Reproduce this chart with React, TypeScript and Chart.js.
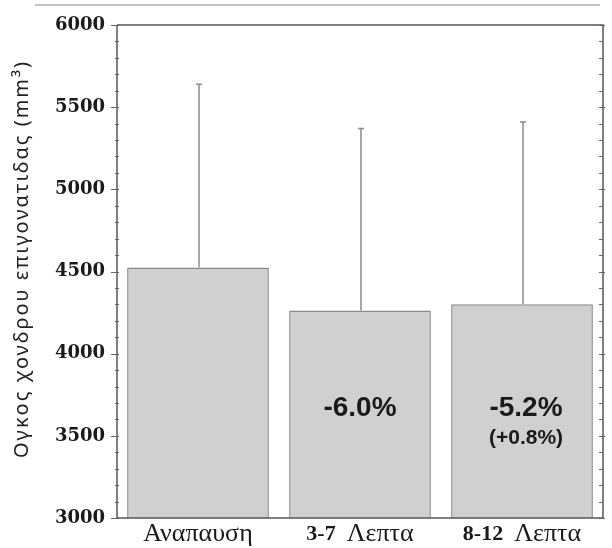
import React, { useEffect, useRef } from "react";
import { Chart, registerables } from "chart.js";
Chart.register(...registerables);

const categories = ["Αναπαυση", "3-7 Λεπτα", "8-12 Λεπτα"];
const labelBoldPart = ["", "3-7", "8-12"];
const labelPlainPart = ["Αναπαυση", "Λεπτα", "Λεπτα"];
const meanVolume = [4525, 4262, 4300];
const errorUpper = [5640, 5370, 5410];
const changeLabels = ["", "-6.0%", "-5.2%"];
const changeSubLabels = ["", "", "(+0.8%)"];
const yMin = 3000;
const yMax = 6000;
const yStep = 500;
const yMinorStep = 100;
const yTitle = "Ογκος χονδρου επιγονατιδας (mm³)";

const decorPlugin = {
  id: "decor",
  beforeDraw(chart: any) {
    const ctx = chart.ctx;
    ctx.save();
    ctx.fillStyle = "#ffffff";
    ctx.fillRect(0, 0, chart.width, chart.height);
    ctx.strokeStyle = "#c4c4c4";
    ctx.lineWidth = 2;
    ctx.beginPath();
    ctx.moveTo(35, 5);
    ctx.lineTo(600, 5);
    ctx.stroke();
    ctx.restore();
  },
  afterDatasetsDraw(chart: any) {
    const ctx = chart.ctx;
    const y = chart.scales.y;
    const x = chart.scales.x;
    const meta = chart.getDatasetMeta(0);
    ctx.save();
    // error bars
    ctx.strokeStyle = "#8c8c8c";
    ctx.lineWidth = 1.5;
    meta.data.forEach((bar: any, i: number) => {
      const top = y.getPixelForValue(errorUpper[i]);
      const base = y.getPixelForValue(meanVolume[i]);
      const cx = bar.x + 1;
      ctx.beginPath();
      ctx.moveTo(cx, base);
      ctx.lineTo(cx, top);
      ctx.moveTo(cx - 3, top);
      ctx.lineTo(cx + 3, top);
      ctx.stroke();
    });
    // annotations
    ctx.fillStyle = "#1a1a1a";
    ctx.textAlign = "center";
    ctx.textBaseline = "middle";
    meta.data.forEach((bar: any, i: number) => {
      if (changeLabels[i]) {
        ctx.font = "bold 28px 'Liberation Sans', Arial, sans-serif";
        ctx.fillText(changeLabels[i], bar.x + (i === 2 ? 4 : 0), y.getPixelForValue(3665));
      }
      if (changeSubLabels[i]) {
        ctx.font = "bold 21px 'Liberation Sans', Arial, sans-serif";
        ctx.fillText(changeSubLabels[i], bar.x + 4, y.getPixelForValue(3485));
      }
    });
    // frame
    const a = chart.chartArea;
    ctx.strokeStyle = "#555555";
    ctx.lineWidth = 1.5;
    ctx.beginPath();
    ctx.moveTo(a.left, a.top);
    ctx.lineTo(a.right, a.top);
    ctx.lineTo(a.right, a.bottom);
    ctx.lineTo(a.left, a.bottom);
    ctx.lineTo(a.left, a.top);
    ctx.stroke();
    // minor/major ticks
    ctx.lineWidth = 1;
    ctx.strokeStyle = "#666666";
    for (let v = yMin; v <= yMax; v += yMinorStep) {
      const py = Math.round(y.getPixelForValue(v)) + 0.5;
      const major = (v - yMin) % yStep === 0;
      ctx.beginPath();
      ctx.moveTo(a.left - (major ? 6 : 2), py);
      ctx.lineTo(a.left + 2, py);
      ctx.moveTo(a.right - 4, py);
      ctx.lineTo(a.right + (major ? 2 : 0), py);
      ctx.stroke();
    }
    // y title
    ctx.save();
    ctx.translate(22, 259);
    ctx.rotate(-Math.PI / 2);
    ctx.textAlign = "center";
    ctx.textBaseline = "middle";
    ctx.fillStyle = "#222222";
    ctx.font = "20px 'Noto Sans', sans-serif";
    try {
      (ctx as any).letterSpacing = "2px";
    } catch (e) {}
    ctx.fillText(yTitle, 0, 0);
    ctx.restore();
    // x labels
    ctx.fillStyle = "#1a1a1a";
    ctx.textBaseline = "middle";
    ctx.textAlign = "left";
    categories.forEach((_c: string, i: number) => {
      const cx = x.getPixelForValue(i);
      const boldFont = "bold 22px 'Liberation Serif', 'Times New Roman', serif";
      const plainFont = "26px 'Liberation Serif', 'Times New Roman', serif";
      ctx.font = boldFont;
      const bw = labelBoldPart[i] ? ctx.measureText(labelBoldPart[i] + "  ").width : 0;
      ctx.font = plainFont;
      const pw = ctx.measureText(labelPlainPart[i]).width;
      let sx = cx - (bw + pw) / 2;
      const ty = 534;
      if (labelBoldPart[i]) {
        ctx.font = boldFont;
        ctx.fillText(labelBoldPart[i], sx, ty);
        sx += bw;
      }
      ctx.font = plainFont;
      ctx.fillText(labelPlainPart[i], sx, ty);
    });
    ctx.restore();
  },
};

export default function App() {
  const ref = useRef<HTMLCanvasElement | null>(null);
  useEffect(() => {
    document.body.style.margin = "0";
    const canvas = ref.current;
    if (!canvas) return;
    const chart = new Chart(canvas, {
      type: "bar",
      data: {
        labels: categories,
        datasets: [
          {
            data: meanVolume,
            backgroundColor: "#d0d0d0",
            borderColor: "#8a8a8a",
            borderWidth: 1.5,
            barPercentage: 0.875,
            categoryPercentage: 1,
          },
        ],
      },
      options: {
        animation: false,
        responsive: false,
        maintainAspectRatio: false,
        devicePixelRatio: 1,
        layout: { padding: { left: 0, right: 9, top: 25, bottom: 0 } },
        plugins: { legend: { display: false }, tooltip: { enabled: false } },
        scales: {
          x: {
            type: "category",
            offset: true,
            grid: { display: false },
            border: { display: false },
            ticks: { display: false },
            afterFit: (s: any) => {
              s.height = 30;
            },
          },
          y: {
            min: yMin,
            max: yMax,
            ticks: {
              stepSize: yStep,
              color: "#1a1a1a",
              padding: 4,
              font: { family: "'DejaVu Serif', serif", weight: "bold", size: 18 },
              callback: (v: any) => String(v),
            },
            grid: { display: false },
            border: { display: false },
            title: { display: false },
            afterFit: (s: any) => {
              s.width = 117;
            },
          },
        },
      },
      plugins: [decorPlugin],
    });
    return () => chart.destroy();
  }, []);
  return (
    <div style={{ width: 612, height: 548 }}>
      <canvas ref={ref} width={612} height={548} style={{ width: 612, height: 548 }} />
    </div>
  );
}
